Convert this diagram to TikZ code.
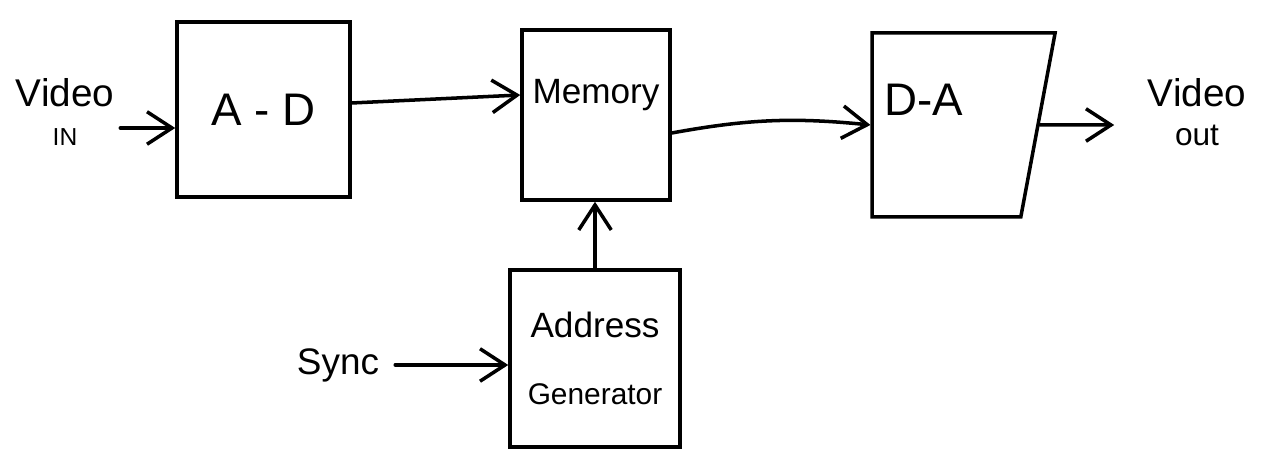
\documentclass[tikz,border=0pt]{standalone}
\usepackage{fontspec}
\setmainfont{Liberation Sans}
\usetikzlibrary{arrows.meta,shapes.geometric}

\begin{document}
\begin{tikzpicture}[
    blk/.style={draw, line width=2pt, inner sep=0pt, minimum width=3.4cm, minimum height=3.5cm},
    arr/.style={-{Straight Barb[length=5mm,width=6.5mm,line width=2pt]}, line width=2pt, line cap=round},
  ]
  \useasboundingbox (0,0) rectangle (25.36,9.16);
  % Blocks
  \node[blk, minimum width=3.46cm] (ad) at (5.27,6.97) {\fontsize{26}{28}\selectfont A - D};
  \node[blk, minimum width=2.96cm, minimum height=3.4cm,
        label={[yshift=4mm, font=\fontsize{20}{22}\selectfont]center:Memory}] (mem) at (11.92,6.86) {};
  \node[draw, line width=2pt, trapezium, trapezium left angle=90, trapezium right angle=103,
        trapezium stretches=true, minimum width=3.66cm, minimum height=3.68cm,
        label={[xshift=-4.5mm, yshift=5mm, font=\fontsize{26}{28}\selectfont]center:D-A}] (da) at (18.93,6.66) {};
  \node[blk, minimum height=3.54cm, align=center, font=\fontsize{20}{24}\selectfont] (addr) at (11.9,1.99)
    {Address\\[14pt]{\fontsize{17}{20}\selectfont Generator}};
  % Inputs and output
  \node[align=center, font=\fontsize{22}{22}\selectfont] (vin) at (1.3,6.92)
    {Video\\{\fontsize{14}{16}\selectfont IN}};
  \node[align=center, font=\fontsize{22}{22}\selectfont] (vout) at (23.94,6.92)
    {Video\\{\fontsize{18}{18}\selectfont out}};
  \node[font=\fontsize{21}{24}\selectfont] (sync) at (6.76,1.86) {Sync};
  % Arrows
  \draw[arr] ([yshift=-3.2mm]vin.east) -- ([yshift=-3.2mm]vin.east -| ad.west);
  \draw[arr] ([yshift=1.3mm]ad.east) -- ([yshift=4mm]mem.west);
  \draw[arr] ([yshift=-3.6mm]mem.east) to[bend left=8] (da.west);
  \draw[arr] (da.east) -- ([xshift=-5.5mm,yshift=-2.6mm]vout.west);
  \draw[arr] (addr.north) -- (addr.north |- mem.south);
  \draw[arr] ([xshift=2mm]sync.east) -- (sync.east -| addr.west);
\end{tikzpicture}
\end{document}
